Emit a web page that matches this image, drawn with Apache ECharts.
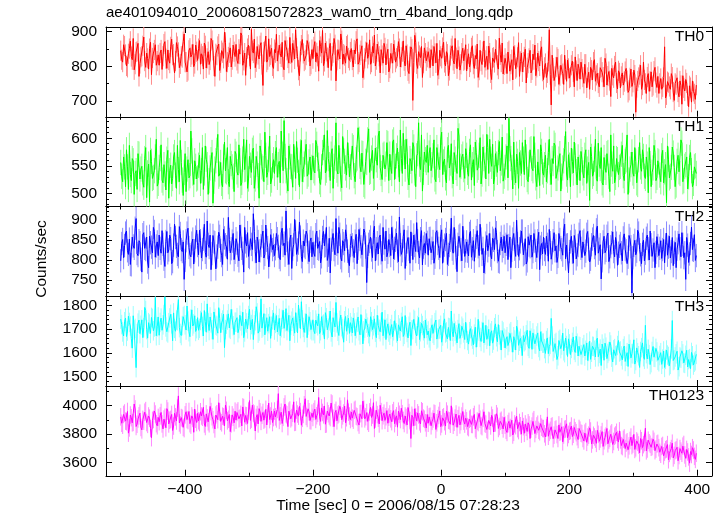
<!DOCTYPE html>
<html><head><meta charset="utf-8">
<script src="https://cdn.jsdelivr.net/npm/echarts@6/dist/echarts.min.js"></script>
<style>html,body{margin:0;padding:0;background:#fff}#c{width:722px;height:516px}</style>
</head><body><div id="c"></div>
<script>
// ---- data: bins A ----
const times = [
-500,-497,-494,-491,-488,-485,-482,-479,-476,-473,-470,-467,-464,-461,-458,-455,-452,-449,-446,-443,
-440,-437,-434,-431,-428,-425,-422,-419,-416,-413,-410,-407,-404,-401,-398,-395,-392,-389,-386,-383,
-380,-377,-374,-371,-368,-365,-362,-359,-356,-353,-350,-347,-344,-341,-338,-335,-332,-329,-326,-323,
-320,-317,-314,-311,-308,-305,-302,-299,-296,-293,-290,-287,-284,-281,-278,-275,-272,-269,-266,-263,
-260,-257,-254,-251,-248,-245,-242,-239,-236,-233,-230,-227,-224,-221,-218,-215,-212,-209,-206,-203,
-200,-197,-194,-191,-188,-185,-182,-179,-176,-173,-170,-167,-164,-161,-158,-155,-152,-149,-146,-143,
-140,-137,-134,-131,-128,-125,-122,-119,-116,-113,-110,-107,-104,-101,-98,-95,-92,-89,-86,-83,
-80,-77,-74,-71,-68,-65,-62,-59,-56,-53,-50,-47,-44,-41,-38,-35,-32,-29,-26,-23,
-20,-17,-14,-11,-8,-5,-2,1,4,7,10,13,16,19,22,25,28,31,34,37,
40,43,46,49,52,55,58,61,64,67,70,73,76,79,82,85,88,91,94,97,
100,103,106,109,112,115,118,121,124,127,130,133,136,139,142,145,148,151,154,157,
160,163,166,169,172,175,178,181,184,187,190,193,196,199,202,205,208,211,214,217,
220,223,226,229,232,235,238,241,244,247,250,253,256,259,262,265,268,271,274,277,
280,283,286,289,292,295,298,301,304,307,310,313,316,319,322,325,328,331,334,337,
340,343,346,349,352,355,358,361,364,367,370,373,376,379,382,385,388,391,394,397];

const th0 = [
845,812,858,801,836,872,819,790,841,866,808,829,884,797,823,851,776,838,862,815,
803,847,829,871,794,818,856,832,781,868,840,807,825,893,812,788,852,834,799,861,
817,874,836,792,859,823,805,880,846,771,832,864,810,839,898,785,827,853,819,842,
863,808,835,889,817,774,851,829,906,838,796,857,821,868,745,843,812,879,833,801,
848,892,815,836,869,790,857,824,883,811,846,905,828,773,861,837,819,874,842,806,
822,871,839,786,857,903,814,843,796,866,829,880,758,848,821,874,835,809,862,817,
851,798,836,879,812,845,767,823,868,834,806,857,890,819,842,781,831,866,804,849,
795,838,864,812,829,851,826,873,801,834,779,856,702,889,807,842,825,768,853,816,
842,796,831,857,810,774,846,823,869,801,835,788,851,817,880,793,828,806,852,819,
787,836,812,859,794,821,768,846,805,873,817,791,838,762,826,849,803,881,812,778,
823,779,845,806,761,832,797,868,814,784,827,752,809,846,790,819,773,838,801,856,
762,808,781,905,689,795,771,826,748,803,779,832,757,794,769,815,741,788,806,763,
792,751,806,768,734,789,812,757,780,741,798,769,823,746,785,713,774,801,752,787,
738,781,756,794,725,767,742,789,668,758,776,734,812,751,769,728,784,745,797,739,
722,765,741,856,718,753,734,769,702,747,726,758,691,738,762,715,744,697,728,705];

const th1 = [
556,521,548,579,507,534,563,498,541,572,526,549,511,583,537,484,558,529,566,513,
547,588,519,535,562,491,551,527,574,509,543,596,524,538,503,561,532,577,516,549,
528,569,541,507,586,552,523,561,482,544,578,531,556,512,593,539,521,567,548,503,
571,533,559,520,598,544,509,567,538,582,526,553,491,574,545,611,529,562,517,550,
536,583,552,519,571,632,541,504,566,548,589,527,560,512,596,543,575,531,557,524,
568,537,589,551,516,574,606,542,563,523,581,549,628,535,559,510,577,546,592,530,
547,583,521,564,598,539,572,513,556,617,540,578,529,561,604,547,525,571,553,590,
571,536,597,549,582,521,563,609,544,576,515,558,592,537,568,628,543,504,575,556,
538,583,552,597,521,566,543,611,557,528,579,546,590,517,562,536,604,549,571,527,
569,531,588,552,514,574,547,601,535,563,526,583,598,549,517,572,538,594,555,522,
547,586,636,563,508,538,571,509,555,592,534,566,521,579,545,603,528,557,514,576,
533,569,541,598,516,554,587,527,562,504,546,581,535,570,512,558,593,539,566,523,
561,528,579,544,487,567,536,598,522,553,583,515,547,572,531,606,540,519,563,534,
549,587,523,561,498,544,575,531,558,516,592,540,567,527,553,583,512,546,574,529,
557,521,578,539,483,562,531,584,547,515,569,536,591,523,552,508,565,541,518,550];

const th2 = [
798,851,836,872,814,789,857,829,903,811,843,770,868,826,795,859,832,881,807,845,
862,817,839,784,871,825,853,796,889,834,808,866,821,752,848,879,813,842,790,857,
836,874,805,852,819,897,831,776,861,843,810,869,824,789,855,833,906,818,847,801,
853,812,887,829,770,845,868,806,839,915,821,857,795,836,872,814,849,783,863,826,
811,866,834,801,879,842,922,817,851,779,838,870,825,894,808,847,831,863,796,855,
844,809,872,827,793,856,835,881,812,768,849,826,903,817,864,798,841,875,822,786,
859,823,847,791,876,833,812,868,744,839,857,806,884,828,815,862,797,842,872,819,
836,881,803,849,822,907,814,858,779,845,827,870,801,836,893,819,853,788,841,866,
812,854,829,792,868,841,806,875,823,851,789,836,904,817,848,771,859,826,884,809,
845,810,871,828,797,856,833,889,814,768,842,823,866,803,849,880,821,795,857,834,
818,863,836,781,852,827,899,809,845,872,816,790,858,833,807,866,824,848,776,841,
857,814,839,876,802,848,823,794,866,831,812,889,837,768,845,819,861,803,836,873,
806,849,822,871,795,838,861,812,884,827,753,845,818,859,796,833,870,808,842,817,
841,798,865,823,807,852,718,836,813,874,826,791,849,817,862,800,838,825,781,858,
811,848,826,793,867,832,805,856,819,781,843,828,868,806,752,837,815,882,824,799];

const th3 = [
1742,1688,1731,1669,1754,1713,1620,1697,1538,1725,1681,1739,1706,1778,1662,1721,1749,1693,1833,1710,
1674,1746,1718,1835,1689,1727,1762,1651,1703,1738,1824,1682,1715,1757,1696,1734,1668,1781,1722,1690,
1748,1703,1769,1671,1732,1806,1694,1726,1657,1745,1713,1790,1685,1738,1622,1721,1764,1699,1742,1677,
1729,1685,1758,1714,1664,1742,1701,1783,1719,1656,1735,1768,1692,1827,1710,1676,1748,1723,1661,1739,
1696,1757,1718,1672,1741,1703,1786,1728,1651,1733,1712,1769,1684,1745,1815,1707,1726,1664,1752,1698,
1739,1681,1724,1764,1693,1716,1658,1748,1704,1776,1667,1729,1812,1691,1737,1710,1645,1753,1718,1682,
1711,1747,1672,1729,1693,1761,1638,1704,1725,1681,1752,1698,1743,1664,1716,1689,1771,1703,1656,1722,
1674,1719,1693,1741,1650,1704,1728,1669,1757,1686,1712,1631,1698,1736,1671,1749,1689,1715,1662,1703,
1692,1651,1718,1674,1738,1663,1701,1645,1727,1684,1659,1705,1776,1668,1691,1642,1723,1677,1704,1656,
1683,1637,1702,1658,1679,1624,1741,1665,1690,1642,1716,1671,1630,1693,1654,1722,1647,1676,1612,1688,
1621,1668,1646,1689,1603,1654,1712,1632,1661,1589,1647,1676,1628,1693,1615,1658,1637,1684,1609,1650,
1641,1598,1663,1627,1745,1606,1639,1572,1652,1618,1683,1601,1631,1659,1593,1644,1612,1670,1587,1626,
1592,1635,1611,1568,1649,1603,1627,1583,1662,1598,1547,1619,1641,1576,1606,1633,1562,1618,1591,1652,
1608,1571,1629,1586,1543,1614,1597,1655,1568,1601,1539,1622,1584,1716,1575,1593,1559,1627,1581,1604,
1563,1601,1574,1539,1612,1585,1552,1736,1571,1596,1528,1583,1609,1558,1590,1541,1576,1602,1549,1567];

const th0123 = [
3921,3862,3948,3887,3806,3934,3879,4012,3853,3906,3947,3829,3891,3965,3868,3912,3774,3903,3941,3858,
3887,3952,3836,3918,3979,3871,3903,3825,3946,3892,4069,3864,3911,3838,3957,3895,3873,3928,3812,3904,
3946,3881,3927,3989,3853,3914,3872,3958,3901,3836,3943,4021,3889,3926,3858,3967,3904,3817,3935,3879,
3898,3963,3912,3857,3986,3931,3874,4036,3905,3948,3821,3937,3979,3889,3952,3906,3864,4018,3927,3881,
3962,3907,4085,3928,3874,3991,3943,3852,3969,3916,4027,3884,3941,3995,3862,3938,4049,3910,3957,3893,
3917,3976,3929,4058,3889,3952,3998,3871,3943,3916,4012,3852,3967,3934,3996,3901,3948,3879,4041,3927,
3955,3898,3974,3921,3863,3945,4032,3907,3951,3876,3988,3934,3839,3968,3912,4003,3894,3947,3922,3876,
3941,3887,3965,3912,3848,3939,3982,3896,3927,3864,3951,3768,3916,3978,3893,3935,3871,3957,3904,3842,
3876,3925,3889,3947,3832,3908,3963,3871,3921,3856,3940,3893,3999,3862,3913,3847,3932,3888,3959,3870,
3893,3845,3912,3867,3938,3826,3881,3904,3852,3957,3869,3823,3891,3932,3814,3878,3925,3853,3897,3836,
3862,3811,3889,3846,3793,3871,3925,3824,3858,3892,3805,3847,3879,3768,3856,3901,3832,3869,3816,3848,
3838,3779,3921,3812,3851,3767,3829,3796,3864,3818,3745,3833,3872,3797,3824,3782,3846,3809,3761,3827,
3802,3751,3817,3779,3843,3729,3791,3764,3826,3748,3793,3712,3775,3839,3757,3798,3726,3784,3812,3743,
3758,3711,3772,3736,3689,3754,3718,3797,3702,3741,3667,3752,3725,3841,3694,3738,3706,3763,3682,3729,
3703,3657,3719,3672,3694,3618,3681,3735,3649,3688,3611,3697,3664,3726,3628,3673,3594,3655,3687,3621];

// ---- data: bins B (between the A bins) ----
const timesB = [
-498.5,-495.5,-492.5,-489.5,-486.5,-483.5,-480.5,-477.5,-474.5,-471.5,-468.5,-465.5,-462.5,-459.5,-456.5,-453.5,-450.5,-447.5,-444.5,-441.5,
-438.5,-435.5,-432.5,-429.5,-426.5,-423.5,-420.5,-417.5,-414.5,-411.5,-408.5,-405.5,-402.5,-399.5,-396.5,-393.5,-390.5,-387.5,-384.5,-381.5,
-378.5,-375.5,-372.5,-369.5,-366.5,-363.5,-360.5,-357.5,-354.5,-351.5,-348.5,-345.5,-342.5,-339.5,-336.5,-333.5,-330.5,-327.5,-324.5,-321.5,
-318.5,-315.5,-312.5,-309.5,-306.5,-303.5,-300.5,-297.5,-294.5,-291.5,-288.5,-285.5,-282.5,-279.5,-276.5,-273.5,-270.5,-267.5,-264.5,-261.5,
-258.5,-255.5,-252.5,-249.5,-246.5,-243.5,-240.5,-237.5,-234.5,-231.5,-228.5,-225.5,-222.5,-219.5,-216.5,-213.5,-210.5,-207.5,-204.5,-201.5,
-198.5,-195.5,-192.5,-189.5,-186.5,-183.5,-180.5,-177.5,-174.5,-171.5,-168.5,-165.5,-162.5,-159.5,-156.5,-153.5,-150.5,-147.5,-144.5,-141.5,
-138.5,-135.5,-132.5,-129.5,-126.5,-123.5,-120.5,-117.5,-114.5,-111.5,-108.5,-105.5,-102.5,-99.5,-96.5,-93.5,-90.5,-87.5,-84.5,-81.5,
-78.5,-75.5,-72.5,-69.5,-66.5,-63.5,-60.5,-57.5,-54.5,-51.5,-48.5,-45.5,-42.5,-39.5,-36.5,-33.5,-30.5,-27.5,-24.5,-21.5,
-18.5,-15.5,-12.5,-9.5,-6.5,-3.5,-0.5,2.5,5.5,8.5,11.5,14.5,17.5,20.5,23.5,26.5,29.5,32.5,35.5,38.5,
41.5,44.5,47.5,50.5,53.5,56.5,59.5,62.5,65.5,68.5,71.5,74.5,77.5,80.5,83.5,86.5,89.5,92.5,95.5,98.5,
101.5,104.5,107.5,110.5,113.5,116.5,119.5,122.5,125.5,128.5,131.5,134.5,137.5,140.5,143.5,146.5,149.5,152.5,155.5,158.5,
161.5,164.5,167.5,170.5,173.5,176.5,179.5,182.5,185.5,188.5,191.5,194.5,197.5,200.5,203.5,206.5,209.5,212.5,215.5,218.5,
221.5,224.5,227.5,230.5,233.5,236.5,239.5,242.5,245.5,248.5,251.5,254.5,257.5,260.5,263.5,266.5,269.5,272.5,275.5,278.5,
281.5,284.5,287.5,290.5,293.5,296.5,299.5,302.5,305.5,308.5,311.5,314.5,317.5,320.5,323.5,326.5,329.5,332.5,335.5,338.5,
341.5,344.5,347.5,350.5,353.5,356.5,359.5,362.5,365.5,368.5,371.5,374.5,377.5,380.5,383.5,386.5,389.5,392.5,395.5,398.5];

const th0B = [
819,862,834,797,851,828,880,806,843,771,826,859,815,838,792,869,824,847,803,833,
838,791,864,822,847,809,878,835,815,857,796,829,871,812,784,846,827,863,808,842,
851,806,829,867,795,842,818,874,801,836,857,788,845,823,869,812,839,798,861,828,
817,849,896,803,838,826,861,792,845,878,813,834,859,805,841,887,819,828,852,794,
839,815,861,827,798,874,846,809,836,866,821,852,789,843,877,815,832,863,801,848,
856,813,829,874,838,802,867,825,851,788,839,862,817,846,893,806,831,858,824,841,
818,847,872,806,833,859,791,842,823,876,812,838,801,864,829,848,809,853,836,784,
837,809,846,823,871,798,842,816,859,787,828,849,811,868,794,831,857,809,838,826,
823,848,801,837,866,792,829,854,811,842,773,831,859,807,825,846,789,838,816,862,
821,798,853,806,831,864,789,815,842,797,829,858,781,824,811,846,792,833,867,804,
808,841,786,819,857,793,826,771,838,812,849,796,823,781,835,861,797,815,844,786,
797,768,814,776,832,759,798,821,773,806,748,791,818,766,803,784,827,759,794,812,
769,806,738,783,797,761,819,774,752,796,783,741,808,772,759,794,767,812,735,781,
771,746,785,759,731,792,754,775,739,768,803,746,761,722,779,757,741,786,753,771,
751,734,768,709,756,742,779,726,751,767,712,745,773,729,752,684,739,758,721,746];

const th1B = [
531,566,512,548,587,523,559,536,507,571,544,519,563,492,553,578,527,541,598,518,
563,524,552,506,578,541,517,566,533,587,521,556,496,572,544,528,613,537,559,526,
551,518,583,537,562,498,546,574,522,559,607,535,518,566,541,583,512,554,531,576,
539,588,514,562,543,597,526,551,578,509,567,532,586,548,521,569,538,604,524,561,
572,529,558,613,541,567,523,586,549,511,562,594,538,575,521,553,589,535,566,547,
541,596,563,521,548,583,537,614,552,571,509,564,542,587,526,603,558,533,569,548,
586,532,561,619,549,573,516,558,597,538,564,527,582,551,613,536,569,544,592,523,
547,593,525,568,552,615,536,574,598,529,563,541,584,512,572,553,606,538,561,587,
573,541,568,526,583,551,597,534,562,519,587,555,532,574,547,618,529,566,543,581,
538,576,524,561,593,542,569,517,584,551,607,536,562,589,528,553,574,541,602,531,
566,528,581,547,593,519,558,574,536,562,597,525,553,581,541,569,512,557,588,539,
552,521,574,538,563,591,527,546,572,531,559,612,524,551,582,537,568,515,547,576,
537,569,518,556,584,531,562,527,591,545,519,565,538,574,503,553,586,529,561,547,
571,532,558,606,524,552,537,583,519,561,548,579,531,566,501,554,538,587,523,559,
533,568,519,552,586,528,547,573,512,558,539,597,521,549,566,530,574,512,548,536];

const th2B = [
841,806,867,823,852,788,835,879,816,848,802,863,829,857,781,843,818,871,835,811,
829,873,802,846,818,862,791,837,856,814,883,826,845,799,867,831,808,852,823,874,
813,848,826,889,807,839,862,816,845,778,832,859,811,876,838,802,851,828,866,819,
842,798,859,817,881,835,809,853,826,871,793,846,823,858,805,887,831,812,848,837,
828,853,807,867,836,812,849,789,862,827,901,814,842,857,796,835,872,819,846,808,
817,863,829,846,808,871,836,799,854,827,866,813,839,881,806,848,823,859,797,836,
838,806,864,829,851,813,877,832,809,846,825,869,798,843,857,818,881,827,808,851,
811,854,829,867,796,838,823,875,814,856,792,839,862,821,848,805,873,832,817,844,
853,818,846,807,873,829,858,792,837,866,814,849,827,881,806,839,862,798,845,823,
822,866,807,848,835,873,811,852,829,794,861,837,812,854,826,868,797,841,823,859,
839,801,857,824,866,809,841,828,872,813,853,798,837,862,821,847,806,869,832,815,
826,859,797,843,818,868,835,809,851,826,874,803,838,821,859,792,847,813,864,829,
845,811,864,827,802,852,831,875,817,838,798,859,824,867,808,843,821,856,787,834,
818,855,827,791,861,833,806,849,822,867,813,839,798,854,828,872,809,843,819,836,
829,804,851,838,812,859,821,786,844,827,865,808,839,818,856,794,841,826,863,811];

const th3B = [
1719,1671,1746,1692,1728,1661,1756,1703,1681,1738,1716,1664,1791,1698,1727,1682,1745,1709,1672,1751,
1728,1695,1761,1709,1684,1747,1722,1768,1691,1735,1706,1673,1752,1718,1797,1689,1742,1713,1756,1702,
1695,1736,1711,1778,1687,1726,1751,1698,1772,1717,1683,1744,1726,1763,1698,1738,1705,1783,1714,1729,
1748,1702,1734,1771,1688,1726,1757,1697,1741,1718,1794,1683,1729,1704,1765,1723,1691,1752,1712,1768,
1724,1688,1745,1706,1779,1731,1694,1758,1716,1747,1683,1728,1801,1702,1739,1686,1764,1717,1731,1693,
1693,1738,1714,1681,1752,1721,1769,1697,1735,1688,1748,1709,1726,1673,1759,1702,1735,1691,1746,1727,
1684,1726,1702,1751,1676,1717,1693,1742,1708,1669,1731,1714,1687,1758,1699,1727,1672,1739,1704,1688,
1701,1668,1735,1684,1718,1692,1752,1678,1709,1663,1729,1697,1741,1682,1715,1656,1724,1693,1738,1676,
1663,1704,1682,1727,1658,1699,1716,1671,1743,1688,1707,1652,1691,1724,1676,1698,1661,1712,1684,1729,
1652,1689,1671,1634,1708,1666,1692,1648,1727,1675,1657,1699,1683,1641,1706,1668,1719,1654,1694,1662,
1657,1631,1682,1644,1668,1612,1697,1649,1628,1673,1652,1695,1619,1662,1684,1638,1671,1623,1689,1641,
1618,1652,1597,1636,1671,1621,1644,1588,1657,1633,1609,1662,1585,1638,1619,1667,1602,1641,1628,1593,
1621,1587,1642,1606,1573,1628,1611,1653,1584,1616,1637,1569,1624,1598,1646,1582,1613,1589,1631,1604,
1587,1618,1564,1601,1637,1579,1596,1553,1621,1588,1606,1642,1573,1597,1615,1551,1606,1582,1619,1569,
1589,1552,1608,1573,1591,1546,1617,1568,1583,1607,1542,1578,1596,1556,1611,1572,1534,1588,1561,1594];

const th0123B = [
3876,3938,3891,3959,3843,3915,3882,3977,3869,3928,3846,3903,3954,3881,3927,3839,3896,3962,3873,3917,
3928,3871,3905,3844,3962,3897,3938,3856,3921,3983,3878,3916,3847,3935,3902,3959,3863,3912,3976,3881,
3893,3957,3918,3871,3942,3886,3995,3922,3867,3934,3901,3956,3879,3921,4004,3893,3938,3872,3918,3961,
3952,3907,3939,3991,3883,3928,3962,3896,4004,3941,3917,3871,3956,3932,3898,3974,3943,3902,3961,3916,
3921,3973,3896,3954,3918,4012,3935,3961,3907,3946,3882,3969,3926,3958,3911,4006,3924,3978,3895,3947,
3958,3903,3946,3921,3984,3935,3869,3962,3927,4019,3911,3951,3893,3942,3976,3928,3997,3915,3954,3902,
3912,3967,3926,3881,3943,3908,3975,3922,3889,3956,3917,4021,3905,3937,3871,3958,3929,3896,3965,3919,
3907,3949,3873,3928,3961,3902,3943,3874,3916,3987,3895,3932,3858,3921,3949,3886,3964,3912,3879,3938,
3921,3858,3906,3943,3879,3931,3852,3914,3887,3962,3897,3869,3926,3883,3941,3908,3864,3927,3891,3912,
3852,3904,3868,3921,3837,3891,3946,3859,3911,3874,3832,3896,3857,3913,3876,3943,3839,3889,3862,3918,
3826,3873,3841,3897,3812,3859,3838,3881,3799,3852,3871,3818,3864,3835,3889,3803,3857,3826,3873,3839,
3801,3843,3784,3826,3857,3792,3835,3768,3812,3851,3793,3836,3774,3819,3856,3798,3823,3781,3839,3806,
3768,3806,3741,3792,3821,3758,3779,3734,3798,3765,3817,3752,3786,3731,3769,3808,3747,3793,3761,3822,
3718,3762,3697,3745,3716,3778,3729,3691,3751,3722,3768,3704,3739,3681,3756,3727,3711,3748,3693,3734,
3671,3712,3646,3689,3725,3663,3697,3631,3682,3706,3648,3679,3714,3652,3691,3638,3676,3703,3642,3664];

const panelNames = ['TH0', 'TH1', 'TH2', 'TH3', 'TH0123'];
const errors = [29, 23, 29, 41, 62];
const yMin = [655, 476, 710, 1461, 3505];
const yMax = [913, 639, 933, 1838, 4139];
const yLabelTicks = [[700, 800, 900], [500, 550, 600], [750, 800, 850, 900], [1500, 1600, 1700, 1800], [3600, 3800, 4000]];
const yMinorTicks = [
  [750, 850],
  [480, 490, 510, 520, 530, 540, 560, 570, 580, 590, 610, 620, 630],
  [720, 730, 740, 760, 770, 780, 790, 810, 820, 830, 840, 860, 870, 880, 890, 910, 920, 930],
  [1480, 1520, 1540, 1560, 1580, 1620, 1640, 1660, 1680, 1720, 1740, 1760, 1780, 1820],
  [3700, 3900, 4100]];
const xLabelTicks = [-400, -200, 0, 200, 400];
const xMinorTicks = [-500, -300, -100, 100, 300];
const titleText = 'ae401094010_20060815072823_wam0_trn_4band_long.qdp';
const xTitle = 'Time [sec] 0 = 2006/08/15 07:28:23';
const yTitle = 'Counts/sec';

// ---- chart ----
const valuesA = [th0, th1, th2, th3, th0123];
const valuesB = [th0B, th1B, th2B, th3B, th0123B];
const dark = ['#ff0000', '#00ff00', '#0000ff', '#00ffff', '#ff00ff'];
const light = ['#ff8a8a', '#8aff8a', '#8a8aff', '#9affff', '#ff8aff'];
const FONT = 'Liberation Sans, Arial, sans-serif';
const FS = 15.5;
const L = 106, R = 712, T0 = 27, H = 89.75;
const fmt = v => (v < 0 ? '\u2212' + (-v) : String(v));

function mergedPoints(a, b) {
  const pts = [];
  times.forEach((t, k) => { if (a[k] != null) pts.push([t, a[k]]); });
  timesB.forEach((t, k) => { if (b[k] != null) pts.push([t, b[k]]); });
  pts.sort((p, q) => p[0] - q[0]);
  return pts;
}

const grids = [], xAxes = [], yAxes = [], series = [], graphics = [];
for (let i = 0; i < 5; i++) {
  grids.push({ left: L, width: R - L, top: T0 + i * H, height: H });
  const last = i === 4;
  const xb = { gridIndex: i, type: 'value', min: -523, max: 423, splitLine: { show: false } };
  const lineOn = { show: true, onZero: false, lineStyle: { color: '#000', width: 1 } };
  const lineOff = { show: false, onZero: false };
  ['bottom', 'top'].forEach(pos => {
    xAxes.push(Object.assign({}, xb, {
      position: pos, axisLine: lineOn,
      axisTick: { show: true, inside: true, length: 6, customValues: xLabelTicks, lineStyle: { color: '#000' } },
      axisLabel: { show: last && pos === 'bottom', customValues: xLabelTicks, formatter: fmt, fontSize: FS, color: '#000', fontFamily: FONT, margin: 6 }
    }));
    xAxes.push(Object.assign({}, xb, {
      position: pos, axisLine: lineOff,
      axisTick: { show: true, inside: true, length: 3, customValues: xMinorTicks, lineStyle: { color: '#000' } },
      axisLabel: { show: false }
    }));
  });
  const yb = { gridIndex: i, type: 'value', min: yMin[i], max: yMax[i], splitLine: { show: false } };
  ['left', 'right'].forEach(pos => {
    yAxes.push(Object.assign({}, yb, {
      position: pos, axisLine: lineOn,
      axisTick: { show: true, inside: true, length: 6, customValues: yLabelTicks[i], lineStyle: { color: '#000' } },
      axisLabel: { show: pos === 'left', customValues: yLabelTicks[i], formatter: fmt, fontSize: FS, color: '#000', fontFamily: FONT, margin: 9 }
    }));
    yAxes.push(Object.assign({}, yb, {
      position: pos, axisLine: lineOff,
      axisTick: { show: true, inside: true, length: 3, customValues: yMinorTicks[i], lineStyle: { color: '#000' } },
      axisLabel: { show: false }
    }));
  });
  const pts = mergedPoints(valuesA[i], valuesB[i]);
  const err = errors[i];
  const col = light[i];
  series.push({
    type: 'custom', xAxisIndex: 4 * i, yAxisIndex: 4 * i, silent: true, animation: false,
    data: pts.map(p => [p[0], p[1], err]),
    renderItem: function (params, api) {
      const x = api.value(0), y = api.value(1), e = api.value(2);
      const cs = params.coordSys;
      const p1 = api.coord([x, y - e]), p2 = api.coord([x, y + e]);
      const y1 = Math.min(Math.max(p1[1], cs.y), cs.y + cs.height);
      const y2 = Math.min(Math.max(p2[1], cs.y), cs.y + cs.height);
      return { type: 'line', shape: { x1: p1[0], y1: y1, x2: p2[0], y2: y2 }, style: { stroke: col, lineWidth: 1 } };
    }
  });
  series.push({
    type: 'line', xAxisIndex: 4 * i, yAxisIndex: 4 * i, silent: true, animation: false,
    showSymbol: false, symbol: 'none',
    data: pts,
    lineStyle: { color: dark[i], width: 1 }
  });
  graphics.push({
    type: 'text', right: 722 - 704, top: T0 + i * H + 2,
    style: { text: panelNames[i], fontSize: FS, fontFamily: FONT, fill: '#000' }
  });
}
graphics.push({ type: 'text', left: 106, top: 5, style: { text: titleText, fontSize: 15, fontFamily: FONT, fill: '#000' } });
graphics.push({ type: 'text', x: 398, y: 506, style: { text: xTitle, fontSize: FS, fontFamily: FONT, fill: '#000', align: 'center', verticalAlign: 'middle' } });
graphics.push({ type: 'text', x: 42, y: 259, rotation: Math.PI / 2, style: { text: yTitle, fontSize: FS, fontFamily: FONT, fill: '#000', align: 'center', verticalAlign: 'middle' } });

const chart = echarts.init(document.getElementById('c'), null, { renderer: 'canvas' });
chart.setOption({
  animation: false,
  backgroundColor: '#fff',
  grid: grids, xAxis: xAxes, yAxis: yAxes, series: series, graphic: graphics
});
</script></body></html>
